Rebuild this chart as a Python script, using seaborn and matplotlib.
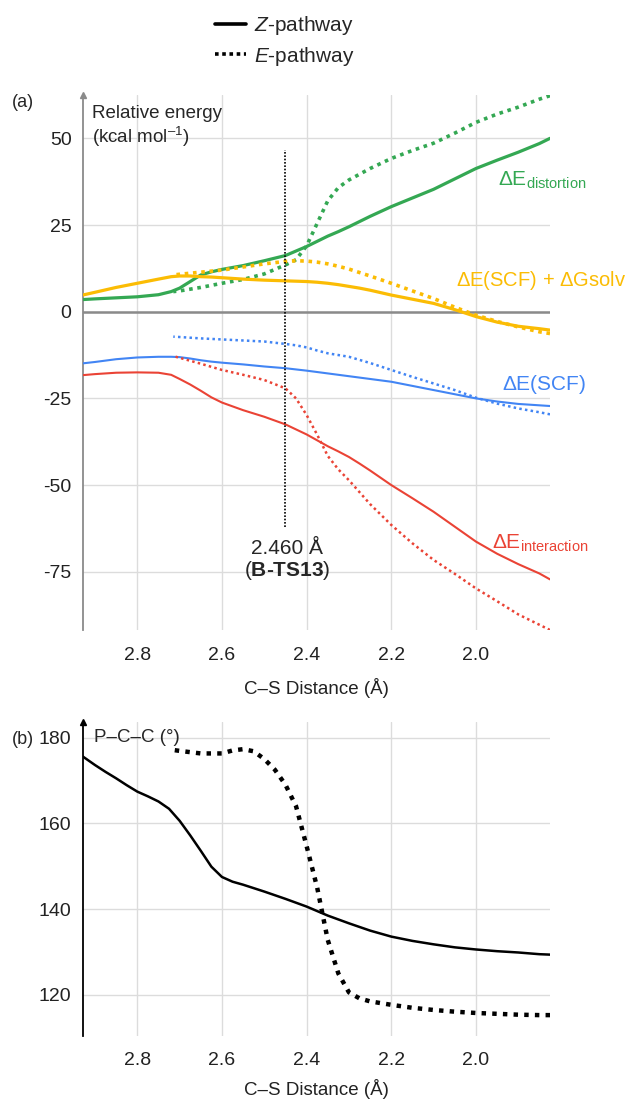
import numpy as np
import pandas as pd
import matplotlib
matplotlib.use('Agg')
import matplotlib.pyplot as plt
from matplotlib.lines import Line2D
import seaborn as sns

# ---- data ----
# C-S distance grids (Angstrom)
dist_z = [2.929, 2.9, 2.85, 2.8, 2.75, 2.72, 2.7, 2.675, 2.65, 2.625, 2.6, 2.55, 2.5, 2.45, 2.4,
          2.375, 2.35, 2.325, 2.3, 2.275, 2.25, 2.2, 2.15, 2.1, 2.05, 2.0, 1.95, 1.9, 1.85, 1.825]
dist_e = [2.715, 2.7, 2.65, 2.6, 2.55, 2.5, 2.45, 2.425, 2.4, 2.375, 2.35, 2.325,
          2.3, 2.25, 2.2, 2.15, 2.1, 2.05, 2.0, 1.95, 1.9, 1.85, 1.825]

# panel (a): relative energies, kcal/mol
dist_z_distortion = [3.5, 3.7, 4.0, 4.3, 4.9, 5.8, 6.8, 8.7, 10.6, 11.5, 12.2, 13.3, 14.7, 16.2, 18.8,
                     20.3, 21.8, 23.1, 24.5, 26.0, 27.5, 30.3, 32.8, 35.3, 38.3, 41.3, 43.7, 46.0, 48.5, 50.0]
dist_z_scf_solv = [4.8, 5.6, 7.0, 8.2, 9.4, 10.1, 10.3, 10.3, 10.1, 10.0, 9.8, 9.4, 9.1, 8.9, 8.7,
                   8.5, 8.2, 7.8, 7.3, 6.8, 6.2, 4.8, 3.6, 2.4, 0.6, -1.4, -3.0, -4.2, -4.9, -5.3]
dist_z_scf = [-14.9, -14.5, -13.7, -13.2, -13.0, -13.0, -13.1, -13.5, -14.0, -14.4, -14.7, -15.2, -15.8, -16.3, -17.0,
              -17.4, -17.8, -18.2, -18.6, -19.0, -19.4, -20.2, -21.4, -22.6, -23.8, -25.0, -25.9, -26.6, -27.0, -27.2]
dist_z_interaction = [-18.3, -18.0, -17.6, -17.5, -17.6, -18.2, -19.4, -21.0, -22.8, -24.7, -26.2, -28.4, -30.3,
                      -32.5, -35.4, -37.1, -38.8, -40.3, -41.9, -43.8, -45.8, -50.0, -53.8, -57.7, -62.0,
                      -66.3, -69.8, -72.8, -75.5, -77.2]

dist_e_distortion = [5.8, 6.0, 7.0, 8.2, 9.3, 10.9, 13.5, 15.0, 19.0, 25.5, 32.0, 35.8,
                     38.0, 41.3, 44.2, 46.5, 48.6, 51.5, 54.6, 57.0, 59.0, 61.3, 62.3]
dist_e_scf_solv = [10.6, 10.8, 11.4, 12.0, 12.9, 13.8, 14.5, 14.7, 14.6, 14.3, 13.8, 13.1,
                   12.3, 10.3, 8.2, 6.0, 3.8, 1.3, -1.0, -2.8, -4.4, -5.8, -6.3]
dist_e_scf = [-7.2, -7.3, -7.7, -8.0, -8.3, -8.6, -9.3, -9.7, -10.3, -11.2, -12.0, -12.5,
              -13.0, -14.8, -16.8, -18.8, -20.7, -22.6, -24.8, -26.5, -27.9, -29.0, -29.6]
dist_e_interaction = [-12.8, -13.3, -15.0, -16.8, -18.2, -19.7, -22.1, -25.0, -29.8, -35.5, -41.6, -45.5,
                      -48.6, -55.5, -61.5, -66.8, -71.6, -75.6, -79.8, -83.5, -87.3, -90.3, -91.8]

# panel (b): P-C-C angle, degrees
dist_z_angle = [2.929, 2.9, 2.875, 2.85, 2.825, 2.8, 2.775, 2.75, 2.725, 2.7, 2.675, 2.65, 2.625, 2.6,
                2.575, 2.55, 2.5, 2.45, 2.4, 2.35, 2.3, 2.25, 2.2, 2.15, 2.1, 2.05, 2.0, 1.95, 1.9, 1.85, 1.825]
angle_z = [175.6, 173.6, 172.0, 170.5, 168.9, 167.4, 166.3, 165.1, 163.4, 160.6, 157.2, 153.6, 149.9, 147.5,
           146.4, 145.7, 144.1, 142.4, 140.6, 138.5, 136.7, 135.0, 133.6, 132.6, 131.8, 131.1, 130.6,
           130.2, 129.9, 129.5, 129.4]
dist_e_angle = [2.715, 2.7, 2.65, 2.6, 2.575, 2.55, 2.525, 2.5, 2.475, 2.45, 2.425, 2.4,
                2.375, 2.35, 2.325, 2.3, 2.275, 2.25, 2.2, 2.15, 2.1, 2.05, 2.0, 1.95, 1.9, 1.85, 1.825]
angle_e = [177.1, 176.9, 176.3, 176.3, 177.0, 177.3, 176.8, 175.0, 172.5, 169.0, 164.0, 154.7,
           145.0, 132.8, 125.0, 120.6, 119.2, 118.5, 117.7, 117.0, 116.5, 116.1, 115.8, 115.6, 115.4, 115.3, 115.3]

ts_dist = 2.45
ts_span = (-62.0, 46.6)

terms = ['distortion', 'scf_solv', 'scf', 'interaction']
colors = {'distortion': '#34a853', 'scf_solv': '#fbbc04', 'scf': '#4285f4', 'interaction': '#ea4335'}

rows = []
for term, vz, ve in zip(terms,
                        [dist_z_distortion, dist_z_scf_solv, dist_z_scf, dist_z_interaction],
                        [dist_e_distortion, dist_e_scf_solv, dist_e_scf, dist_e_interaction]):
    rows.append(pd.DataFrame({'dist': dist_z, 'energy': vz, 'term': term, 'path': 'Z'}))
    rows.append(pd.DataFrame({'dist': dist_e, 'energy': ve, 'term': term, 'path': 'E'}))
energy = pd.concat(rows, ignore_index=True)

angles = pd.concat([pd.DataFrame({'dist': dist_z_angle, 'angle': angle_z, 'path': 'Z'}),
                    pd.DataFrame({'dist': dist_e_angle, 'angle': angle_e, 'path': 'E'})],
                   ignore_index=True)

# ---- style ----
sns.set_style('white')
plt.rcParams['font.family'] = ['Liberation Sans', 'DejaVu Sans']
plt.rcParams['mathtext.fontset'] = 'custom'
plt.rcParams['mathtext.rm'] = 'Liberation Sans'
plt.rcParams['mathtext.it'] = 'Liberation Sans:italic'
plt.rcParams['mathtext.bf'] = 'Liberation Sans:bold'
plt.rcParams['axes.unicode_minus'] = False

W, H = 628, 1101
fig = plt.figure(figsize=(W / 100, H / 100), dpi=100)


def px(x, y):
    return x / W, 1 - y / H


def axes_box(left, top, right, bottom):
    return [left / W, 1 - bottom / H, (right - left) / W, (bottom - top) / H]


ax1 = fig.add_axes(axes_box(82.7, 95, 550, 630))
ax2 = fig.add_axes(axes_box(82.7, 721.7, 550, 1035.7))

thick = {'distortion': 2.3, 'scf_solv': 2.3, 'scf': 1.5, 'interaction': 1.5}
dots = {'distortion': (1.0, 1.3), 'scf_solv': (1.0, 1.3), 'scf': (1.0, 1.3), 'interaction': (1.0, 1.3)}

for term in terms:
    sub = energy[energy.term == term]
    sns.lineplot(data=sub[sub.path == 'Z'], x='dist', y='energy', ax=ax1,
                 color=colors[term], linewidth=thick[term], zorder=3)
    sns.lineplot(data=sub[sub.path == 'E'], x='dist', y='energy', ax=ax1,
                 color=colors[term], linewidth=thick[term] + 0.3, dashes=dots[term], zorder=3)

ax1.vlines(ts_dist, *ts_span, color='black', linewidth=1.2, linestyles=(0, (1, 1)), zorder=4)
ax1.axhline(0, color='#8a8a8a', linewidth=1.8, zorder=2)

sns.lineplot(data=angles[angles.path == 'Z'], x='dist', y='angle', ax=ax2,
             color='black', linewidth=1.8, zorder=3)
sns.lineplot(data=angles[angles.path == 'E'], x='dist', y='angle', ax=ax2,
             color='black', linewidth=3.2, dashes=(1.0, 1.4), zorder=3)

for ax, ylim, yticks, spine_col, lpad in [(ax1, (-91.8, 62.5), [-75, -50, -25, 0, 25, 50], '#8a8a8a', 10),
                                          (ax2, (110.5, 183.7), [120, 140, 160, 180], 'black', 7)]:
    ax.set_xlim(2.929, 1.825)
    ax.set_ylim(*ylim)
    ax.set_yticks(yticks)
    ax.set_xticks([2.8, 2.6, 2.4, 2.2, 2.0])
    ax.set_xticklabels(['2.8', '2.6', '2.4', '2.2', '2.0'])
    ax.grid(True, color='#dcdcdc', linewidth=1)
    ax.set_axisbelow(True)
    for s in ['top', 'right', 'bottom']:
        ax.spines[s].set_visible(False)
    ax.spines['left'].set_color(spine_col)
    ax.spines['left'].set_linewidth(1.3)
    ax.tick_params(length=0, labelsize=14, colors='#222222')
    ax.tick_params(axis='y', pad=8)
    ax.tick_params(axis='x', pad=12)
    ax.set_xlabel('C\u2013S Distance (\u00c5)', fontsize=13.5, color='#222222', labelpad=lpad)
    ax.set_ylabel('')
    ax.plot(0, 1, marker='^', markersize=4, color=spine_col, transform=ax.transAxes, clip_on=False)

# ---- texts ----
fig.text(*px(12, 103), '(a)', fontsize=13, va='center')
fig.text(*px(12, 739), '(b)', fontsize=13, va='center')
fig.text(*px(92, 113), 'Relative energy', fontsize=13.5, va='center')
fig.text(*px(92, 137), '(kcal mol$^{\\mathregular{\u20131}}$)', fontsize=13.5, va='center')
fig.text(*px(94, 737), 'P\u2013C\u2013C (\u00b0)', fontsize=13.5, va='center')

fig.text(*px(498, 180), '$\\Delta$E$_{\\mathregular{distortion}}$', fontsize=15,
         color=colors['distortion'], va='center')
fig.text(*px(456, 281), '$\\Delta$E(SCF) + $\\Delta$Gsolv', fontsize=14.5,
         color=colors['scf_solv'], va='center')
fig.text(*px(502, 385), '$\\Delta$E(SCF)', fontsize=15, color=colors['scf'], va='center')
fig.text(*px(492, 543), '$\\Delta$E$_{\\mathregular{interaction}}$', fontsize=15,
         color=colors['interaction'], va='center')

fig.text(*px(287, 548), '2.460 \u00c5', fontsize=15, ha='center', va='center')
fig.text(*px(287, 571), '($\\mathbf{B\u2010TS13}$)', fontsize=15, ha='center', va='center')

# legend at the top
handles = [Line2D([], [], color='black', linewidth=2.6),
           Line2D([], [], color='black', linewidth=2.6, dashes=(1, 1))]
fig.legend(handles, ['$\\mathit{Z}$-pathway', '$\\mathit{E}$-pathway'],
           loc='upper left', bbox_to_anchor=px(207, 6), frameon=False, fontsize=15,
           handlelength=1.45, handletextpad=0.4, labelspacing=0.35, borderaxespad=0)

fig.savefig('out.png', dpi=100)
